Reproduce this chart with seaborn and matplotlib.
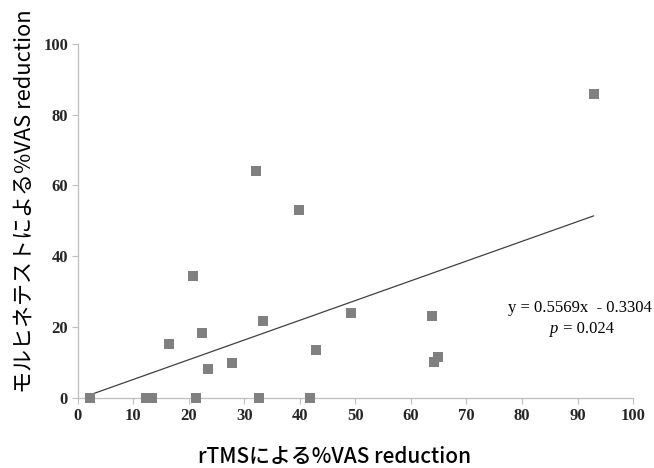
import matplotlib
matplotlib.use("Agg")
import matplotlib.pyplot as plt
import seaborn as sns
import numpy as np
import pandas as pd

# Data
x_rtms = [2.2, 12.3, 13.4, 21.3, 32.6, 41.8, 16.4, 20.7, 22.4, 23.5, 27.7,
          33.4, 42.9, 32.1, 39.8, 92.9, 49.2, 63.7, 64.1, 64.9]
y_morphine = [0.0, 0.0, 0.0, 0.0, 0.0, 0.0, 15.3, 34.5, 18.3, 8.2, 10.0,
              21.6, 13.5, 64.1, 53.2, 85.8, 24.1, 23.1, 10.1, 11.7]
slope = 0.5569
intercept = -0.3304
x_ticks = [0, 10, 20, 30, 40, 50, 60, 70, 80, 90, 100]
y_ticks = [0, 20, 40, 60, 80, 100]
eq_text = "y = 0.5569x  - 0.3304"
p_text = " = 0.024"
x_label = "rTMSによる%VAS reduction"
y_label = "モルヒネテストによる%VAS reduction"

df = pd.DataFrame({"x": x_rtms, "y": y_morphine})
fit_x = np.array([min(x_rtms), max(x_rtms)])
fit = pd.DataFrame({"x": fit_x, "y": slope * fit_x + intercept})

sns.set_theme(style="white")
plt.rcParams['font.family'] = ['Noto Sans CJK JP', 'DejaVu Sans']

fig = plt.figure(figsize=(6.54, 4.68), dpi=100)
ax = fig.add_axes([0.119, 0.1496, 0.849, 0.757])

sns.lineplot(data=fit, x="x", y="y", ax=ax, color="#404040", linewidth=0.9)
sns.scatterplot(data=df, x="x", y="y", ax=ax, marker="s", s=52,
                color="#808080", edgecolor="none", zorder=3, clip_on=False)

ax.set_xlim(0, 100)
ax.set_ylim(0, 100)
ax.set_xticks(x_ticks)
ax.set_yticks(y_ticks)
ax.set_xticklabels([str(t) for t in x_ticks], family="Liberation Serif",
                   fontweight="bold", fontsize=12)
ax.set_yticklabels([str(t) for t in y_ticks], family="Liberation Serif",
                   fontweight="bold", fontsize=12)
ax.tick_params(axis="both", direction="out", length=4, width=0.8,
               color="#bfbfbf", pad=3, bottom=True, left=True)
for side in ["top", "right"]:
    ax.spines[side].set_visible(False)
for side in ["left", "bottom"]:
    ax.spines[side].set_color("#bfbfbf")
    ax.spines[side].set_linewidth(0.9)

ax.set_xlabel(x_label, fontsize=15, color="black", fontweight="medium")
ax.set_ylabel(y_label, fontsize=15.8, color="black")
ax.xaxis.set_label_coords(0.462, -0.135)
ax.yaxis.set_label_coords(-0.076, 0.555)

ax.text(0.905, 0.255, eq_text, transform=ax.transAxes, ha="center", va="center",
        family="Liberation Serif", fontsize=12, color="black")
ax.text(0.866, 0.195, "p", transform=ax.transAxes, ha="right",
        va="center", family="Liberation Serif", fontstyle="italic",
        fontsize=12, color="black")
ax.text(0.866, 0.195, p_text, transform=ax.transAxes, ha="left",
        va="center", family="Liberation Serif", fontsize=12, color="black")

fig.savefig("out.png", dpi=100)
